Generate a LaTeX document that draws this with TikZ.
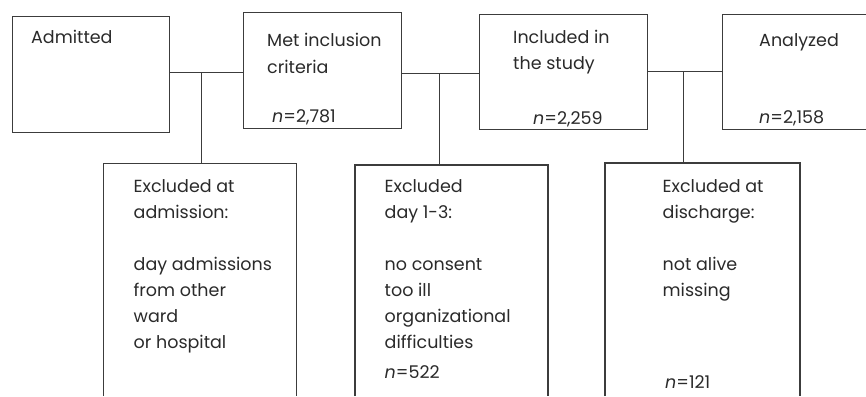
\documentclass[tikz,border=0pt]{standalone}
\usepackage{fontspec}
\setmainfont{Poppins}
\definecolor{ln}{HTML}{3C3C3C}
\definecolor{tx}{HTML}{2A2A2A}
\newcommand{\txtblock}[1]{\begin{tabular}[t]{@{}l@{}}#1\end{tabular}}
\begin{document}
\begin{tikzpicture}[x=1pt,y=-1pt,
  box/.style={inner sep=0pt, outer sep=0pt, line width=1pt, draw=ln},
  frame/.style={inner sep=0pt, outer sep=0pt},
  lbl/.style={anchor=base west, inner sep=0pt, text=tx, font=\fontsize{17.5}{26}\selectfont},
  conn/.style={draw=ln, line width=1pt},
  edge/.style={draw=ln, line width=1.4pt}]
\useasboundingbox (0,0) rectangle (866,396);
% top boxes
\node[box, minimum width=157, minimum height=115] (adm) at (90.5,74.5) {};
\node[box, minimum width=158, minimum height=115] (met) at (322,70.5) {};
\node[box, minimum width=168, minimum height=114] (inc) at (563,72) {};
\node[frame, minimum width=144, minimum height=114] (ana) at (794,72) {};
\draw[conn] (ana.north east) -- (ana.north west) -- (ana.south west) -- (ana.south east);
% bottom boxes (open at bottom)
\node[frame, minimum width=193, minimum height=233] (ex1) at (199.5,279.5) {};
\node[frame, minimum width=193, minimum height=231] (ex2) at (451.5,280.5) {};
\node[frame, minimum width=195, minimum height=233] (ex3) at (702.5,279.5) {};
\draw[conn] (ex1.south west) -- (ex1.north west) -- (ex1.north east) -- (ex1.south east);
\draw[edge] (ex2.south west) -- (ex2.north west) -- (ex2.north east) -- (ex2.south east);
\draw[edge] (ex3.south west) -- (ex3.north west) -- (ex3.north east) -- (ex3.south east);
% junctions
\coordinate (j1) at (201.5,72);
\coordinate (j2) at (439.3,73);
\coordinate (j3) at (683,71);
\draw[conn] (adm.east |- j1) -- (met.west |- j1);
\draw[conn] (j1) -- (ex1.north -| j1);
\draw[conn] (met.east |- j2) -- (inc.west |- j2);
\draw[conn] (j2) -- (ex2.north -| j2);
\draw[conn] (inc.east |- j3) -- (ana.west |- j3);
\draw[conn] (j3) -- (ex3.north -| j3);
% texts
\node[lbl] (t1) at (31,44) {Admitted};
\node[lbl] (t2) at (267,47) {\txtblock{Met inclusion\\criteria}};
\node[lbl] (t2n) at (272,122) {\textit{n}=2,781};
\node[lbl] (t3) at (513,44) {\txtblock{Included in\\the study}};
\node[lbl] (t3n) at (533,124) {\textit{n}=2,259};
\node[lbl] (t4) at (759,47) {Analyzed};
\node[lbl] (t4n) at (759,123) {\textit{n}=2,158};
\node[lbl] (t5) at (133.5,192.5) {\txtblock{Excluded at\\admission:\\ \\day admissions\\from other\\ward\\or hospital}};
\node[lbl] (t6) at (384.5,192) {\txtblock{Excluded\\day 1-3:\\ \\no consent\\too ill\\organizational\\difficulties\\[4pt]\textit{n}=522}};
\node[lbl] (t7) at (662.5,192) {\txtblock{Excluded at\\discharge:\\ \\not alive\\missing}};
\node[lbl] (t7n) at (665,388) {\textit{n}=121};
\end{tikzpicture}
\end{document}
